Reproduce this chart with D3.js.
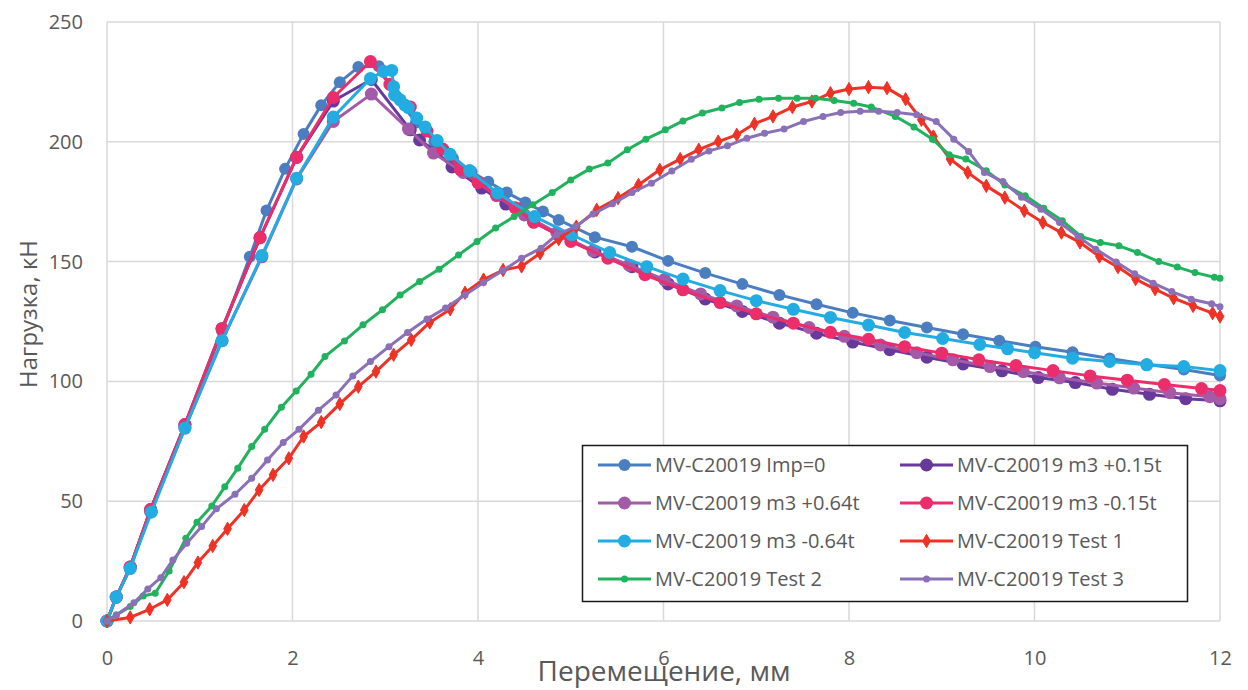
<!DOCTYPE html>
<html>
<head>
<meta charset="utf-8">
<script src="https://cdn.jsdelivr.net/npm/d3@7/dist/d3.min.js"></script>
<style>
  html, body { margin: 0; padding: 0; background: #fff; }
  svg { display: block; font-family: "Open Sans", "Noto Sans", sans-serif; }
</style>
</head>
<body>
<svg id="chart" width="1248" height="690"></svg>
<script>
// Load–displacement curves: FE models and three tests
const seriesNames = [
  "MV-C20019 Imp=0", "MV-C20019 m3 +0.15t", "MV-C20019 m3 +0.64t", "MV-C20019 m3 -0.15t",
  "MV-C20019 m3 -0.64t", "MV-C20019 Test 1", "MV-C20019 Test 2", "MV-C20019 Test 3"
];
const seriesColors = ["#4A7EC0", "#67399A", "#A45BA7", "#EC2D6C", "#22ACE2", "#EE3226", "#20B25C", "#8A70B6"];

const imp0 = [[0,0],[0.1,10],[0.25,22.5],[0.47,46.5],[0.84,81.5],[1.24,121],[1.54,152],[1.72,171.3],[1.92,188.7],[2.12,203.3],[2.31,215.3],[2.51,224.9],[2.71,231.2],[2.93,231.5],[3.12,219],[3.33,208],[3.53,200],[3.73,193],[3.93,187.5],[4.11,183.3],[4.31,178.8],[4.51,174.7],[4.70,170.9],[4.87,167.4],[5.26,160.2],[5.66,156.2],[6.05,150.3],[6.45,145.2],[6.85,140.6],[7.25,136.1],[7.65,132.2],[8.04,128.6],[8.44,125.4],[8.84,122.5],[9.23,119.7],[9.62,117],[10.01,114.5],[10.41,112.2],[10.81,109.6],[11.21,107.2],[11.61,105],[12,102.5]];

const m3p015 = [[0,0],[0.1,10],[0.25,22.5],[0.47,46.5],[0.84,82],[1.24,122],[1.65,160],[2.045,193.5],[2.44,217],[2.85,226],[3.27,205],[3.37,200.8],[3.55,196],[3.72,189.5],[4.04,180.7],[4.3,174],[4.6,166.5],[4.87,161],[5.26,154],[5.66,147.9],[6.05,140.7],[6.45,134.4],[6.85,129.2],[7.25,124.3],[7.65,120.1],[8.04,116.4],[8.44,113.2],[8.84,110.1],[9.23,107.3],[9.65,104.4],[10.04,101.6],[10.44,99.5],[10.84,96.7],[11.24,94.6],[11.63,92.8],[12,91.9]];

const m3p064 = [[0,0],[0.1,10],[0.25,22],[0.47,45.5],[0.84,80.5],[1.24,117],[1.67,152],[2.045,184.5],[2.44,208.5],[2.85,219.9],[3.25,205.3],[3.52,195.3],[3.84,187.2],[4.2,177.5],[4.5,169.5],[4.85,162],[5.24,154.5],[5.63,148.5],[6.01,142.5],[6.40,136.5],[6.79,131.5],[7.18,126.8],[7.57,122.5],[7.95,118.8],[8.34,115.2],[8.73,112],[9.12,109],[9.52,106.2],[9.88,104.1],[10.27,101.5],[10.67,99.3],[11.07,97.2],[11.46,95.3],[11.89,93.6],[12,92.8]];

const m3m015 = [[0,0],[0.1,10],[0.25,22.5],[0.47,46.5],[0.84,82],[1.24,122],[1.65,160],[2.045,193.6],[2.44,218.5],[2.84,233.5],[3.05,224],[3.27,214.5],[3.45,204.5],[3.62,197],[3.81,188.4],[4.0,183],[4.2,177.9],[4.4,172.5],[4.6,166.5],[5.0,158.4],[5.4,151.4],[5.8,144.5],[6.21,138.2],[6.61,132.9],[7.0,128.2],[7.4,124.3],[7.8,120.5],[8.21,117.6],[8.6,114.5],[9.0,111.8],[9.4,109],[9.8,106.6],[10.2,104.5],[10.6,102.3],[11.0,100.5],[11.4,98.7],[11.8,97],[12,96.2]];

const m3m064 = [[0,0],[0.1,10],[0.25,22],[0.48,45.5],[0.84,80.5],[1.24,117],[1.67,152.5],[2.045,184.8],[2.44,210.3],[2.84,226.4],[2.98,229.4],[3.07,229.8],[3.09,223],[3.1,219.6],[3.16,217.5],[3.21,215.4],[3.25,214.2],[3.34,209.9],[3.43,206.2],[3.56,200.5],[3.70,194.8],[3.91,188],[4.21,178.6],[4.61,168.8],[5.01,161.2],[5.42,153.8],[5.82,147.9],[6.21,142.7],[6.61,137.9],[7.0,133.7],[7.4,130.1],[7.8,126.7],[8.21,123.5],[8.6,120.4],[9.01,117.9],[9.41,115.4],[9.71,113.6],[10.0,112],[10.41,109.7],[10.81,108.3],[11.21,106.9],[11.61,106.2],[12,104.5]];

const test1 = [[0,0],[0.25,1.5],[0.46,4.9],[0.65,8.8],[0.83,16.2],[0.98,24.4],[1.14,31.3],[1.30,38.5],[1.48,46.3],[1.64,54.7],[1.79,61],[1.96,67.9],[2.12,77],[2.31,83],[2.51,90.6],[2.71,97.8],[2.9,104.1],[3.09,111.1],[3.28,117.3],[3.48,124.6],[3.70,130.1],[3.86,137],[4.06,142.5],[4.27,146.5],[4.47,148],[4.67,153.5],[4.87,159.4],[5.06,164.6],[5.28,171.6],[5.51,176.5],[5.73,182],[5.96,188.3],[6.18,192.8],[6.38,196.7],[6.59,200.1],[6.79,202.9],[6.98,207.5],[7.18,210.6],[7.39,214.5],[7.6,216.8],[7.8,220.3],[8.0,222],[8.21,222.8],[8.41,222.4],[8.61,217.8],[8.78,209.2],[8.91,202.2],[9.09,192.8],[9.28,187.2],[9.48,181.6],[9.68,176.7],[9.89,171.2],[10.09,166.3],[10.29,162.1],[10.49,158],[10.7,152.1],[10.9,147.7],[11.09,142.7],[11.3,138.5],[11.5,134.7],[11.71,131.5],[11.92,128.5],[12,127.1]];

const test2 = [[0,0],[0.1,2.5],[0.25,6],[0.39,10.4],[0.52,11.6],[0.67,20.9],[0.85,34.5],[0.97,41.2],[1.13,48],[1.27,56],[1.41,63.8],[1.56,72.8],[1.70,80],[1.88,89.2],[2.04,96],[2.2,103],[2.35,110.4],[2.56,116.9],[2.76,123.6],[2.97,129.9],[3.16,136.1],[3.37,141.7],[3.58,146.8],[3.79,152.8],[3.99,158.4],[4.19,164],[4.39,168.8],[4.59,173.7],[4.80,178.8],[5.0,184.1],[5.2,188.6],[5.4,191.1],[5.61,196.7],[5.81,201.1],[6.02,205],[6.21,208.7],[6.42,212],[6.63,214.1],[6.82,216.4],[7.03,217.8],[7.24,218.2],[7.44,218.2],[7.64,218.2],[7.84,217.2],[8.05,216.1],[8.24,214.5],[8.5,210.6],[8.7,206.2],[8.9,201.1],[9.08,194.6],[9.26,192.8],[9.48,187.9],[9.68,182],[9.9,177.5],[10.1,172.3],[10.3,167.1],[10.5,160.5],[10.71,158],[10.91,156.6],[11.11,153.8],[11.34,150],[11.54,147.7],[11.73,145.4],[11.94,143.5],[12,143]];

const test3 = [[0,0],[0.1,2.5],[0.29,7.6],[0.44,13.4],[0.58,18.1],[0.71,25.5],[0.86,32.4],[1.02,39.4],[1.18,46.8],[1.38,52.9],[1.56,59.6],[1.73,67.2],[1.90,74.5],[2.07,80],[2.28,88],[2.47,94.3],[2.65,102.3],[2.84,108.3],[3.04,114.5],[3.24,120.4],[3.45,126],[3.65,130.6],[3.86,136.1],[4.06,141.3],[4.27,146.3],[4.47,151.4],[4.68,155.6],[4.85,161.2],[5.05,164.6],[5.24,169.9],[5.45,174.1],[5.66,178.8],[5.87,182.7],[6.09,187.8],[6.3,192.7],[6.49,196.2],[6.69,198.3],[6.9,201.5],[7.09,203.6],[7.3,205.3],[7.51,208.5],[7.72,210.6],[7.91,212.2],[8.12,212.7],[8.32,212.7],[8.52,212.2],[8.73,211.3],[8.94,208.5],[9.13,201.1],[9.29,196],[9.46,187.2],[9.66,183.4],[9.86,176.9],[10.07,171.9],[10.27,166.3],[10.47,160.5],[10.66,155.2],[10.88,149.8],[11.08,144.9],[11.28,141],[11.48,137.5],[11.69,134.3],[11.91,132.4],[12,131.2]];

const xTicks = [0, 2, 4, 6, 8, 10, 12];
const yTicks = [0, 50, 100, 150, 200, 250];
const xTitle = "Перемещение, мм";
const yTitle = "Нагрузка, кН";

// marker style per series: "circle" big, "dot" small, "diamond" small
const markerKinds = ["circle", "circle", "circle", "circle", "circle", "diamond", "dot", "dot"];
const markerRadius = [6, 6.5, 6.5, 6.5, 6.5, 4, 3.5, 3.5];
const seriesData = [imp0, m3p015, m3p064, m3m015, m3m064, test1, test2, test3];

const svg = d3.select("#chart");
const margin = { left: 107, right: 28, top: 22, bottom: 69 };
const W = 1248, H = 690;

const x = d3.scaleLinear().domain([0, 12]).range([margin.left, W - margin.right]);
const y = d3.scaleLinear().domain([0, 250]).range([H - margin.bottom, margin.top]);

const textColor = "#595959";
const gridColor = "#D9D9D9";

// grid
svg.append("g").selectAll("line").data(yTicks).join("line")
  .attr("x1", x(0)).attr("x2", x(12))
  .attr("y1", d => y(d)).attr("y2", d => y(d))
  .attr("stroke", gridColor).attr("stroke-width", 1.5);
svg.append("g").selectAll("line").data(xTicks).join("line")
  .attr("y1", y(0)).attr("y2", y(250))
  .attr("x1", d => x(d)).attr("x2", d => x(d))
  .attr("stroke", gridColor).attr("stroke-width", 1.5);

// axes (labels only, no domain lines)
const xAxis = d3.axisBottom(x).tickValues(xTicks).tickSize(0).tickPadding(30).tickFormat(d3.format("d"));
const yAxis = d3.axisLeft(y).tickValues(yTicks).tickSize(0).tickPadding(24).tickFormat(d3.format("d"));
const gx = svg.append("g").attr("transform", `translate(0,${y(0)})`).call(xAxis);
const gy = svg.append("g").attr("transform", `translate(${x(0)},0)`).call(yAxis);
[gx, gy].forEach(g => {
  g.select(".domain").remove();
  g.selectAll("text").attr("fill", textColor).style("font-size", "20px")
    .style("font-family", "'Open Sans', sans-serif");
});

// axis titles
svg.append("text").attr("x", 664).attr("y", 681)
  .attr("text-anchor", "middle").attr("fill", textColor)
  .style("font-size", "28px").text(xTitle);
svg.append("text").attr("transform", `translate(37,314) rotate(-90)`)
  .attr("text-anchor", "middle").attr("fill", textColor)
  .style("font-size", "24px").text(yTitle);

// series
const line = d3.line().x(d => x(d[0])).y(d => y(d[1]));
const plot = svg.append("g");

function drawMarker(g, kind, r, color, cx, cy) {
  if (kind === "diamond") {
    g.append("path")
      .attr("d", d3.symbol(d3.symbolDiamond, r * r * 3.2)())
      .attr("transform", `translate(${cx},${cy})`)
      .attr("fill", color).attr("stroke", color).attr("stroke-width", 1);
  } else {
    g.append("circle").attr("cx", cx).attr("cy", cy).attr("r", r).attr("fill", color);
  }
}

seriesData.forEach((data, i) => {
  const g = plot.append("g");
  g.append("path").datum(data).attr("d", line)
    .attr("fill", "none").attr("stroke", seriesColors[i])
    .attr("stroke-width", 3).attr("stroke-linejoin", "round").attr("stroke-linecap", "round");
  data.forEach(d => drawMarker(g, markerKinds[i], markerRadius[i], seriesColors[i], x(d[0]), y(d[1])));
});

// legend
const lg = svg.append("g");
lg.append("rect").attr("x", 582.5).attr("y", 445.5).attr("width", 605).attr("height", 156)
  .attr("fill", "#fff").attr("stroke", "#1a1a1a").attr("stroke-width", 1.5);
const colX = [598, 900];
const rowY = [465, 503, 541, 579];
seriesNames.forEach((name, i) => {
  const cx = colX[i % 2], cy = rowY[Math.floor(i / 2)];
  const item = lg.append("g");
  item.append("line").attr("x1", cx).attr("x2", cx + 53).attr("y1", cy).attr("y2", cy)
    .attr("stroke", seriesColors[i]).attr("stroke-width", 3);
  drawMarker(item, markerKinds[i], markerRadius[i], seriesColors[i], cx + 26.5, cy);
  item.append("text").attr("x", cx + 57).attr("y", cy).attr("dy", "0.35em")
    .attr("fill", textColor).style("font-size", "20px").text(name);
});
</script>
</body>
</html>
